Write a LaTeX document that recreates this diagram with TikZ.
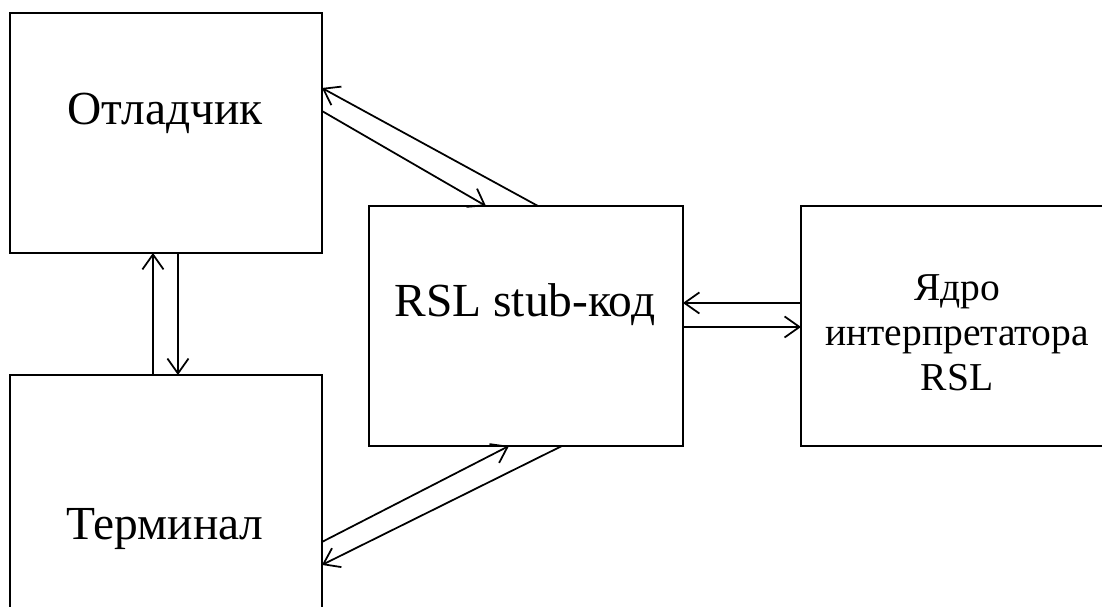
\documentclass[tikz,border=0pt]{standalone}
\usepackage{fontspec}
\setmainfont{Liberation Serif}
\usetikzlibrary{arrows.meta,positioning}

\begin{document}
\begin{tikzpicture}[x=0.02cm,y=-0.02cm,
  box/.style={draw,line width=1pt,minimum width=6.24cm,minimum height=4.8cm,inner sep=0pt,outer sep=0pt,anchor=north west},
  lbl/.style={font=\fontsize{27}{32}\selectfont,anchor=base,inner sep=0pt},
  small/.style={font=\fontsize{22.5}{25.5}\selectfont,align=center,inner sep=0pt},
  link/.style={line width=1pt,-{Straight Barb[length=8.5pt,width=12pt,line width=1pt]}}]
  \clip (0,0) rectangle (1102,607);

  % Boxes
  \node[box] (dbg) at (10,13) {};
  \node[box] (term) at (10,375) {};
  \node[box,minimum width=6.28cm] (stub) at (369,206) {};
  \node[box] (core) at (801,206) {};

  % Texts
  \node[lbl] (dbgtxt) at (165,125) {Отладчик};
  \node[lbl] (termtxt) at (165,540) {Терминал};
  \node[lbl] (stubtxt) at (525,317) {RSL stub-код};
  \node[small] (coretxt) at (957,333) {Ядро\\интерпретатора\\RSL};

  % Arrows
  \draw[link] ([xshift=3.38cm]stub.north west) -- ([yshift=-1.5cm]dbg.north east);
  \draw[link] ([yshift=-1.96cm]dbg.north east) -- ([xshift=2.34cm]stub.north west);
  \draw[link] ([xshift=2.86cm]term.north west) -- ([xshift=2.86cm]dbg.south west);
  \draw[link] ([xshift=3.36cm]dbg.south west) -- ([xshift=3.36cm]term.north west);
  \draw[link] ([yshift=-1.94cm]core.north west) -- ([yshift=-1.94cm]stub.north east);
  \draw[link] ([yshift=-2.42cm]stub.north east) -- ([yshift=-2.42cm]core.north west);
  \draw[link] ([yshift=-3.34cm]term.north east) -- ([xshift=2.8cm]stub.south west);
  \draw[link] ([xshift=3.86cm]stub.south west) -- ([yshift=-3.8cm]term.north east);
\end{tikzpicture}
\end{document}
